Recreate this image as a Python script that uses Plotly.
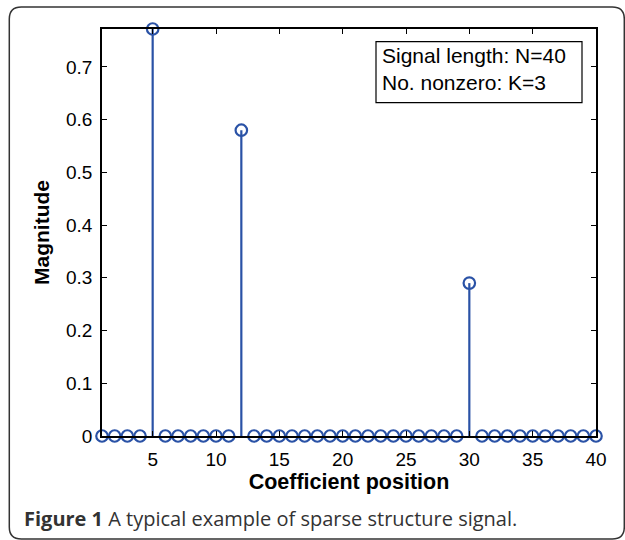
import plotly.graph_objects as go

# ---- data ----
N = 40
positions = list(range(1, N + 1))
nonzero_pos = [5, 12, 30]
nonzero_val = [0.772, 0.580, 0.290]
magnitudes = [0.0] * N
for p, v in zip(nonzero_pos, nonzero_val):
    magnitudes[p - 1] = v
x_ticks = [5, 10, 15, 20, 25, 30, 35, 40]
y_ticks = [0, 0.1, 0.2, 0.3, 0.4, 0.5, 0.6, 0.7]
y_tick_labels = ["0", "0.1", "0.2", "0.3", "0.4", "0.5", "0.6", "0.7"]

BLUE = "#2a52a6"

# stems built from data
sx, sy = [], []
for x, y in zip(positions, magnitudes):
    if y != 0:
        sx += [x, x, None]
        sy += [0, y, None]

fig = go.Figure()
fig.add_trace(go.Scatter(x=sx, y=sy, mode="lines",
                         line=dict(color=BLUE, width=2.2),
                         hoverinfo="skip", showlegend=False, cliponaxis=False))
fig.add_trace(go.Scatter(x=positions, y=magnitudes, mode="markers",
                         marker=dict(symbol="circle-open", size=11.5,
                                     line=dict(color=BLUE, width=2.2), color=BLUE),
                         showlegend=False, cliponaxis=False))

W, H = 625, 540
L, R, T, B = 101.7, 29.3, 29, 104
pw, ph = W - L - R, H - T - B

def px(x):
    return (x - L) / pw

def py(y):
    return (H - B - y) / ph

axis_font = dict(family="Liberation Sans, Arial", size=19, color="black")

fig.update_layout(
    width=W, height=H,
    margin=dict(l=L, r=R, t=T, b=B, pad=0),
    paper_bgcolor="white", plot_bgcolor="white",
    xaxis=dict(range=[1, N], tickvals=x_ticks, ticktext=[str(t) for t in x_ticks],
               showgrid=False, zeroline=False, showline=True, linecolor="black",
               linewidth=1.5, mirror="ticks", ticks="inside", ticklen=5,
               tickcolor="black", tickwidth=1, tickfont=axis_font,
               ticklabelstandoff=5,
               title=dict(text="<b>Coefficient position</b>",
                          font=dict(family="Liberation Sans, Arial", size=21.5, color="black"),
                          standoff=0)),
    yaxis=dict(range=[0, max(magnitudes)], tickvals=y_ticks, ticktext=y_tick_labels,
               showgrid=False, zeroline=False, showline=True, linecolor="black",
               linewidth=1.5, mirror="ticks", ticks="inside", ticklen=5,
               tickcolor="black", tickwidth=1, tickfont=axis_font,
               ticklabelstandoff=4,
               title=dict(text="<b>Magnitude</b>",
                          font=dict(family="Liberation Sans, Arial", size=21, color="black"),
                          standoff=11)),
)

# text box
fig.add_shape(type="rect", xref="paper", yref="paper",
              x0=px(375.7), x1=px(581.7), y0=py(102.7), y1=py(41.7),
              line=dict(color="black", width=1.2), fillcolor="white", layer="above")
fig.add_annotation(xref="paper", yref="paper", x=px(380), y=py(69.5),
                   xanchor="left", yanchor="middle", align="left", showarrow=False,
                   text="Signal length: N=40<br>No. nonzero: K=3",
                   font=dict(family="Liberation Sans, Arial", size=21, color="black"))

# rounded outer border
x0, x1, y0, y1 = 9, 624, 7, 539
r = 12
rx, ry = r / pw, r / ph
X0, X1, Y0, Y1 = px(x0), px(x1), py(y1), py(y0)
path = (f"M {X0+rx},{Y1} L {X1-rx},{Y1} Q {X1},{Y1} {X1},{Y1-ry} "
        f"L {X1},{Y0+ry} Q {X1},{Y0} {X1-rx},{Y0} "
        f"L {X0+rx},{Y0} Q {X0},{Y0} {X0},{Y0+ry} "
        f"L {X0},{Y1-ry} Q {X0},{Y1} {X0+rx},{Y1} Z")
fig.add_shape(type="path", xref="paper", yref="paper", path=path,
              line=dict(color="#333333", width=1.5))

# caption
fig.add_annotation(xref="paper", yref="paper", x=px(22), y=py(518.5),
                   xanchor="left", yanchor="middle", showarrow=False,
                   text="<b>Figure 1</b> A typical example of sparse structure signal.",
                   font=dict(family="Open Sans", size=20, color="#333333"))

fig.write_html("out.html", config={"displayModeBar": False},
               post_script="document.body.style.margin='0';")
